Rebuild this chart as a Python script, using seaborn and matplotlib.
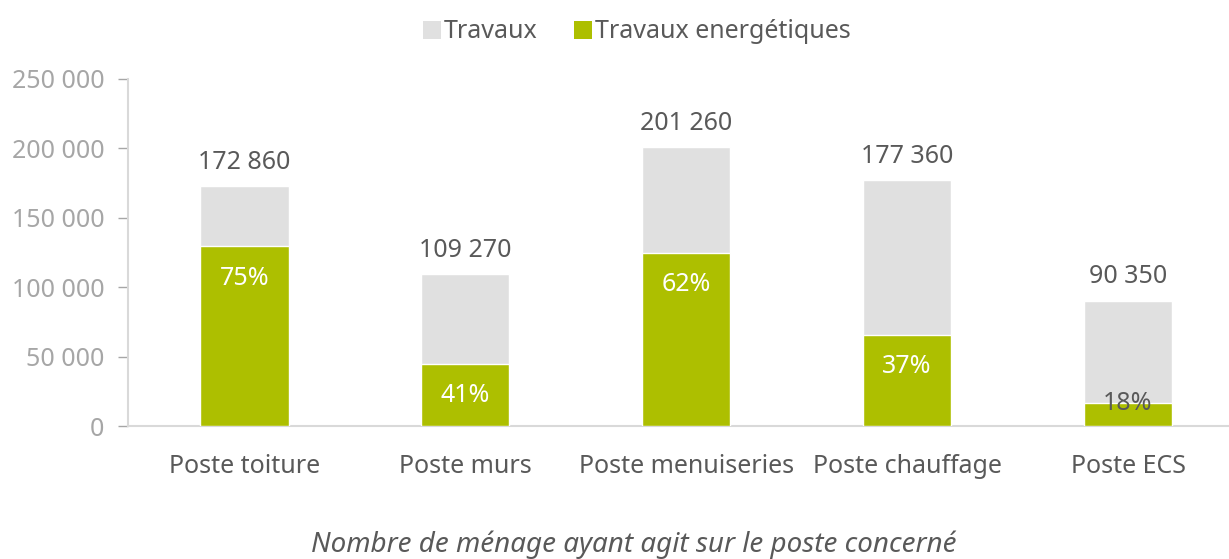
import numpy as np
import pandas as pd
import matplotlib
matplotlib.use("Agg")
import matplotlib.pyplot as plt
import seaborn as sns
from matplotlib.patches import Patch
import matplotlib.ticker as ticker

categories = ['Poste toiture', 'Poste murs', 'Poste menuiseries', 'Poste chauffage', 'Poste ECS']
travaux = [172860, 109270, 201260, 177360, 90350]
travaux_energ = [129600, 44800, 124800, 65600, 16300]
pct_labels = ['75%', '41%', '62%', '37%', '18%']
y_ticks = [0, 50000, 100000, 150000, 200000, 250000]

df = pd.DataFrame({'Poste': categories, 'Travaux': travaux, 'Energ': travaux_energ})

GRAY = '#e0e0e0'
GREEN = '#adbf00'
TXT = '#595959'

sns.set_theme(style="white")
plt.rcParams['font.family'] = ['Noto Sans', 'DejaVu Sans']

fig = plt.figure(figsize=(12.29, 5.59), dpi=100)
ax = fig.add_axes([0.1041, 0.2379, 0.8959, 0.6208])

sns.barplot(data=df, x='Poste', y='Travaux', color=GRAY, width=0.4,
            saturation=1, ax=ax, zorder=2)
sns.barplot(data=df, x='Poste', y='Energ', color=GREEN, width=0.4,
            saturation=1, ax=ax, zorder=3)

ax.set_xlim(-0.527, 4.457)
ax.set_ylim(0, 250000)
ax.set_yticks(y_ticks)
ax.yaxis.set_major_formatter(ticker.FuncFormatter(lambda v, p: format(int(v), ',').replace(',', ' ')))
ax.tick_params(axis='y', colors='#a6a6a6', labelsize=18, length=7, width=1, direction='out', left=True, pad=10)
ax.tick_params(axis='x', colors=TXT, labelsize=18, length=0, pad=20)
ax.set_xlabel('')
ax.set_ylabel('')
for s in ['top', 'right']:
    ax.spines[s].set_visible(False)
for s in ['left', 'bottom']:
    ax.spines[s].set_color('#d9d9d9')
    ax.spines[s].set_linewidth(1.5)

for i, (t, e, p) in enumerate(zip(travaux, travaux_energ, pct_labels)):
    ax.annotate(format(t, ',').replace(',', ' '), (i, t), xytext=(0, 17),
                textcoords='offset points', ha='center', va='center',
                fontsize=18, color=TXT, zorder=5)
    if i == len(travaux) - 1:
        ax.annotate(p, (i, e), xytext=(0, 0), textcoords='offset points',
                    ha='center', va='center', fontsize=18, color=TXT, zorder=5)
    else:
        ax.annotate(p, (i, e), xytext=(0, -23), textcoords='offset points',
                    ha='center', va='center', fontsize=18, color='white', zorder=5)

handles = [Patch(facecolor=GRAY, edgecolor='none'), Patch(facecolor=GREEN, edgecolor='none')]
fig.legend(handles, ['Travaux', 'Travaux energétiques'], loc='center',
           bbox_to_anchor=(0.518, 0.943), ncol=2, frameon=False, fontsize=18,
           handlelength=0.72, handleheight=0.72, handletextpad=0.12, columnspacing=1.45,
           labelcolor=TXT)

fig.text(0.516, 0.025, 'Nombre de ménage ayant agit sur le poste concerné', ha='center',
         va='center', fontsize=20, style='italic', color=TXT)

fig.savefig('out.png', dpi=100, facecolor='white')
